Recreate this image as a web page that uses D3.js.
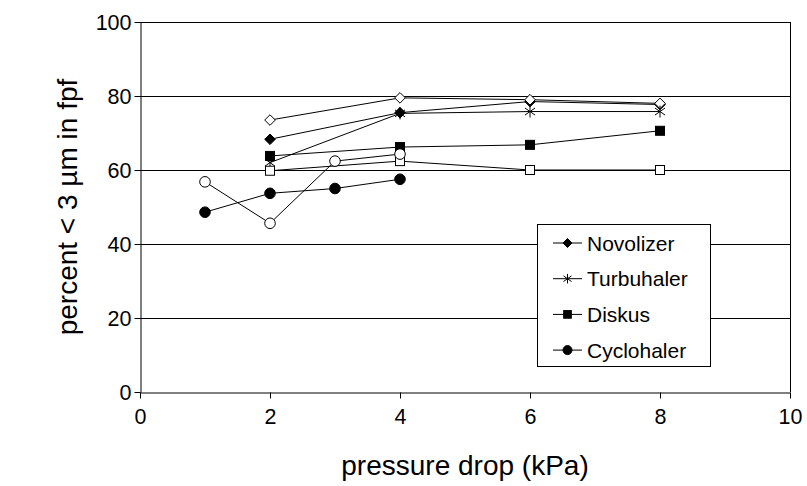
<!DOCTYPE html>
<html><head><meta charset="utf-8">
<script src="https://cdn.jsdelivr.net/npm/d3@7"></script>
<style>body{margin:0;background:#fff}svg{display:block}text{font-family:"Liberation Sans",Arial,sans-serif}</style>
</head><body>
<svg id="c" width="807" height="486"></svg>
<script>
const xTicks = [0, 2, 4, 6, 8, 10];
const yTicks = [0, 20, 40, 60, 80, 100];
const seriesNames = ["Novolizer", "Novolizer open", "Turbuhaler", "Diskus", "Diskus open", "Cyclohaler open", "Cyclohaler"];
const seriesMarkers = ["diamond", "diamondOpen", "asterisk", "square", "squareOpen", "circleOpen", "circle"];
const seriesInLegend = [true, false, true, true, false, false, true];
const novolizerX = [2, 4, 6, 8];
const novolizerY = [68.3, 75.5, 78.5, 77.7];
const novolizerOpenX = [2, 4, 6, 8];
const novolizerOpenY = [73.5, 79.5, 79.0, 78.0];
const turbuhalerX = [2, 4, 6, 8];
const turbuhalerY = [62.0, 75.3, 75.8, 75.8];
const diskusX = [2, 4, 6, 8];
const diskusY = [63.8, 66.2, 66.8, 70.6];
const diskusOpenX = [2, 4, 6, 8];
const diskusOpenY = [59.8, 62.4, 60.0, 60.0];
const cycloOpenX = [1, 2, 3, 4];
const cycloOpenY = [56.8, 45.6, 62.4, 64.3];
const cycloX = [1, 2, 3, 4];
const cycloY = [48.6, 53.7, 55.0, 57.5];
const allX = [novolizerX, novolizerOpenX, turbuhalerX, diskusX, diskusOpenX, cycloOpenX, cycloX];
const allY = [novolizerY, novolizerOpenY, turbuhalerY, diskusY, diskusOpenY, cycloOpenY, cycloY];

const svg = d3.select("#c");
const L = 140, R = 790, T = 22, B = 392;
const x = d3.scaleLinear().domain([0, 10]).range([L, R]);
const y = d3.scaleLinear().domain([0, 100]).range([B, T]);

svg.append("g").selectAll("line").data(yTicks.filter(d => d > 0)).join("line")
  .attr("x1", L).attr("x2", R).attr("y1", d => y(d) + 0.5).attr("y2", d => y(d) + 0.5)
  .attr("stroke", "#000").attr("stroke-width", 1);
svg.append("line").attr("x1", R + 0.5).attr("x2", R + 0.5).attr("y1", T).attr("y2", B).attr("stroke", "#000");

const xAxis = svg.append("g").attr("transform", `translate(0,${B + 0.5})`)
  .call(d3.axisBottom(x).tickValues(xTicks).tickSize(6).tickSizeOuter(0).tickPadding(10));
const yAxis = svg.append("g").attr("transform", `translate(${L + 0.5},0)`)
  .call(d3.axisLeft(y).tickValues(yTicks).tickSize(6).tickSizeOuter(0).tickPadding(3));
[xAxis, yAxis].forEach(a => {
  a.attr("font-family", null).attr("font-size", null);
  a.select(".domain").attr("stroke", "#000");
  a.selectAll(".tick line").attr("stroke", "#000");
  a.selectAll("text").style("font-size", "21.5px").attr("fill", "#000");
});
yAxis.selectAll("text").attr("dy", "0.35em");

svg.append("text").attr("x", 465).attr("y", 475).attr("text-anchor", "middle").style("font-size", "28px").text("pressure drop (kPa)");
svg.append("text").attr("transform", "translate(77,207) rotate(-90)").attr("text-anchor", "middle").style("font-size", "28px").text("percent < 3 µm in fpf");

function drawMarker(g, type, cx, cy, s) {
  const fill = type.endsWith("Open") ? "#fff" : "#000";
  if (type.startsWith("diamond")) {
    g.append("path").attr("d", `M${cx},${cy - s}L${cx + s},${cy}L${cx},${cy + s}L${cx - s},${cy}Z`)
      .attr("fill", fill).attr("stroke", "#000").attr("stroke-width", 1);
  } else if (type.startsWith("square")) {
    g.append("rect").attr("x", cx - s * 0.85).attr("y", cy - s * 0.85).attr("width", s * 1.7).attr("height", s * 1.7)
      .attr("fill", fill).attr("stroke", "#000").attr("stroke-width", 1);
  } else if (type.startsWith("circle")) {
    g.append("circle").attr("cx", cx).attr("cy", cy).attr("r", s).attr("fill", fill).attr("stroke", "#000").attr("stroke-width", 1);
  } else if (type === "asterisk") {
    const a = s * 0.95, b = s * 0.8;
    g.append("path").attr("d", `M${cx},${cy - a}L${cx},${cy + a}M${cx - b},${cy - b * 0.7}L${cx + b},${cy + b * 0.7}M${cx - b},${cy + b * 0.7}L${cx + b},${cy - b * 0.7}`)
      .attr("stroke", "#000").attr("stroke-width", 1).attr("fill", "none");
  }
}

const line = d3.line().x(d => x(d[0])).y(d => y(d[1]));
const plot = svg.append("g");
seriesNames.forEach((n, i) => {
  const pts = allX[i].map((v, j) => [v, allY[i][j]]);
  plot.append("path").attr("d", line(pts)).attr("fill", "none").attr("stroke", "#000").attr("stroke-width", 1);
});
seriesNames.forEach((n, i) => {
  const pts = allX[i].map((v, j) => [v, allY[i][j]]);
  const g = plot.append("g");
  pts.forEach(p => drawMarker(g, seriesMarkers[i], x(p[0]), y(p[1]), seriesMarkers[i] === "asterisk" ? 6.3 : 5.3));
});

const lg = svg.append("g");
lg.append("rect").attr("x", 537.5).attr("y", 224.5).attr("width", 173).attr("height", 142).attr("fill", "#fff").attr("stroke", "#000");
const legIdx = seriesNames.map((n, i) => i).filter(i => seriesInLegend[i]);
legIdx.forEach((i, k) => {
  const cy = 243 + k * 35.7;
  lg.append("line").attr("x1", 553).attr("x2", 582).attr("y1", cy).attr("y2", cy).attr("stroke", "#000");
  drawMarker(lg, seriesMarkers[i], 567.5, cy, seriesMarkers[i] === "asterisk" ? 5 : 4.5);
  lg.append("text").attr("x", 587).attr("y", cy).attr("dy", "0.36em").style("font-size", "21px").text(seriesNames[i]);
});
</script>
</body></html>
